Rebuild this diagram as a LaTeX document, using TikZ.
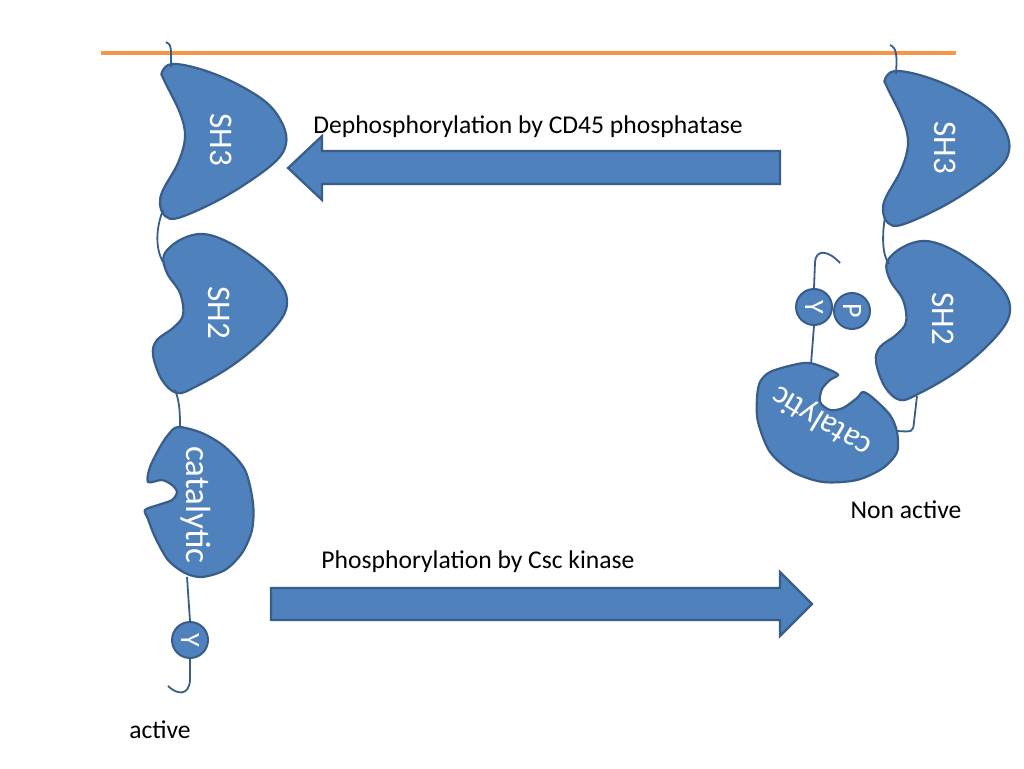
\documentclass[tikz,border=0pt]{standalone}
\usepackage{fontspec}
\setmainfont{Carlito}
\definecolor{domfill}{HTML}{4F81BD}
\definecolor{domline}{HTML}{385D8A}
\definecolor{membrane}{HTML}{F79646}
\tikzset{
  blob/.style={fill=domfill,draw=domline,line width=2.2pt},
  linker/.style={domline,line width=1.8pt},
  bead/.style={circle,fill=domfill,draw=domline,line width=2pt,minimum size=36pt,inner sep=0pt,text=white,font=\fontsize{28}{28}\selectfont},
  domtext/.style={text=white,font=\fontsize{33}{33}\selectfont},
  note/.style={anchor=base,font=\fontsize{25.6}{30}\selectfont}
}
\begin{document}
\begin{tikzpicture}[x=1pt,y=-1pt]
  \useasboundingbox (0,0) rectangle (1024,768);
  % membrane
  \draw[membrane,line width=4pt] (101,53) -- (956,53);

  % active form (left)
  \draw[blob] plot[smooth cycle,tension=0.6] coordinates {(162,72) (172,64) (200,69) (235,83) (267,103) (283,125) (286,144) (276,161) (247,183) (213,203) (178,218) (165,216) (160,204) (163,190) (178,163) (185,137) (180,113) (164,80)};
  \draw[blob] plot[smooth cycle,tension=0.6] coordinates {(180,240) (203,234) (230,243) (260,263) (280,283) (287,300) (282,318) (260,343) (230,367) (195,387) (177,393) (162,380) (153,355) (157,340) (173,328) (183,315) (180,293) (167,273) (164,255)};
  \draw[blob] plot[smooth cycle,tension=0.5] coordinates {(178,427) (202,433) (225,447) (245,470) (253,503) (252,530) (242,553) (225,570) (202,577) (185,573) (168,560) (155,537) (148,519) (145,510) (158,505) (172,500) (177,492) (172,485) (162,480) (148,482) (150,467) (160,447) (168,435)};
  \node[domtext,rotate=-90] (sh3Ltxt) at (221,140) {SH3};
  \node[domtext,rotate=-90] (sh2Ltxt) at (219,313) {SH2};
  \node[domtext,rotate=-90,font=\fontsize{35}{35}\selectfont] (catLtxt) at (196,505) {catalytic};
  \node[bead] (yL) at (190,640) {\rotatebox{-90}{Y}};

  \coordinate (tailL) at (166,42);
  \coordinate (sh3Lin) at (171,67);
  \coordinate (sh3Lout) at (163,210);
  \coordinate (sh2Lin) at (163,262);
  \coordinate (sh2Lout) at (175,390);
  \coordinate (catLin) at (180,428);
  \coordinate (catLout) at (187,577);
  \coordinate (tipL) at (168,686);
  \draw[linker] (tailL) .. controls (172,44) and (171,50) .. (sh3Lin);
  \draw[linker] (sh3Lout) .. controls (156,228) and (155,248) .. (sh2Lin);
  \draw[linker] (sh2Lout) .. controls (180,402) and (180,415) .. (catLin);
  \draw[linker] (catLout) -- (yL.north);
  \draw[linker] (yL.south) -- (190,680) .. controls (189,697) and (176,694) .. (tipL);

  % non active form (right)
  \draw[blob,shift={(723,7)}] plot[smooth cycle,tension=0.6] coordinates {(162,72) (172,64) (200,69) (235,83) (267,103) (283,125) (286,144) (276,161) (247,183) (213,203) (178,218) (165,216) (160,204) (163,190) (178,163) (185,137) (180,113) (164,80)};
  \draw[blob,shift={(723,7)}] plot[smooth cycle,tension=0.6] coordinates {(180,240) (203,234) (230,243) (260,263) (280,283) (287,300) (282,318) (260,343) (230,367) (195,387) (177,393) (162,380) (153,355) (157,340) (173,328) (183,315) (180,293) (167,273) (164,255)};
  \draw[blob] plot[smooth cycle,tension=0.5] coordinates {(770,372) (793,365) (810,363) (830,370) (838,375) (830,380) (822,389) (820,402) (830,410) (843,408) (857,398) (863,392) (873,398) (890,415) (897,432) (897,452) (883,468) (857,480) (823,482) (793,472) (770,452) (758,422) (757,398) (760,382)};
  \node[domtext,rotate=-90] (sh3Rtxt) at (945,148) {SH3};
  \node[domtext,rotate=-90] (sh2Rtxt) at (943,319) {SH2};
  \node[domtext,rotate=149] (catRtxt) at (822,421) {catalytic};
  \node[bead] (yR) at (814,307) {\rotatebox{-90}{Y}};
  \node[bead] (pR) at (852,311) {\rotatebox{-90}{P}};

  \coordinate (tailR) at (890,45);
  \coordinate (sh3Rin) at (896,74);
  \coordinate (sh3Rout) at (885,217);
  \coordinate (sh2Rin) at (889,264);
  \coordinate (sh2Rout) at (917,396);
  \coordinate (catRin) at (897,431);
  \coordinate (catRout) at (811,364);
  \coordinate (tipR) at (840,263);
  \draw[linker] (tailR) .. controls (897,48) and (897,56) .. (sh3Rin);
  \draw[linker] (sh3Rout) .. controls (882,235) and (882,255) .. (sh2Rin);
  \draw[linker] (sh2Rout) -- (914,422) .. controls (913,432) .. (catRin);
  \draw[linker] (catRout) -- (yR.south);
  \draw[linker] (yR.north) -- (815,262) .. controls (816,249) and (828,250) .. (tipR);

  % block arrows
  \draw[blob] (780,151) -- (322,151) -- (322,136) -- (288,168) -- (322,200) -- (322,184) -- (780,184) -- cycle;
  \draw[blob] (271,588) -- (780,588) -- (780,572) -- (812,604) -- (780,636) -- (780,620) -- (271,620) -- cycle;

  % labels
  \node[note] (dephos) at (528,133) {Dephosphorylation by CD45 phosphatase};
  \node[note] (phos) at (478,568) {Phosphorylation by Csc kinase};
  \node[note] (active) at (160,738) {active};
  \node[note] (nonactive) at (906,518) {Non active};
\end{tikzpicture}
\end{document}
